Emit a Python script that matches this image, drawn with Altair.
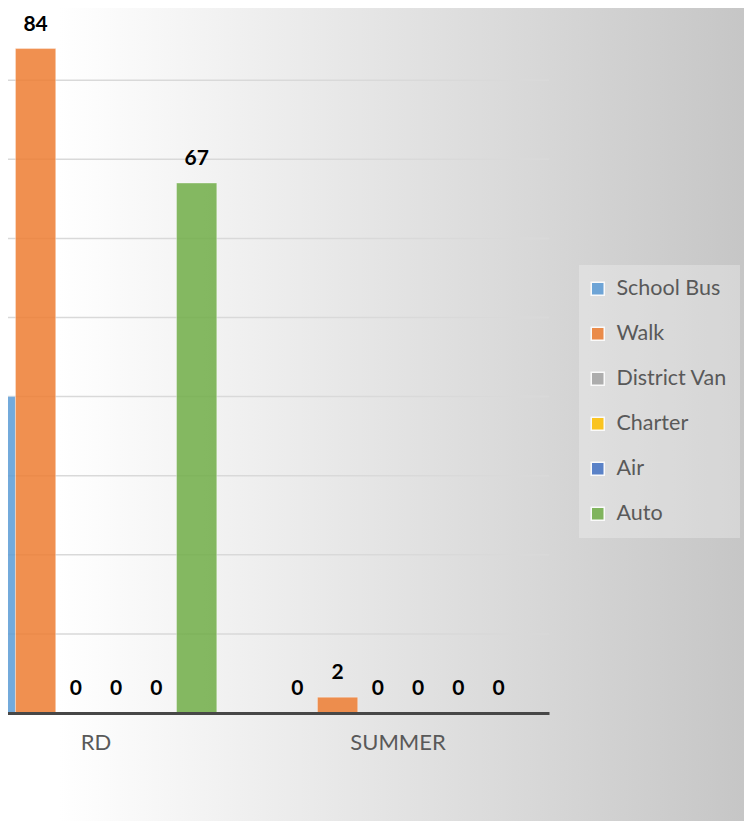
import altair as alt
import pandas as pd

categories = ["RD", "SUMMER"]
modes = ["School Bus", "Walk", "District Van", "Charter", "Air", "Auto"]
rd_values = [40, 84, 0, 0, 0, 67]
summer_values = [0, 2, 0, 0, 0, 0]
colors = ["#5B9BD5", "#ED7D31", "#A5A5A5", "#FFC000", "#4472C4", "#70AD47"]
grid_values = [10, 20, 30, 40, 50, 60, 70, 80]

rows = []
for cat, vals in zip(categories, [rd_values, summer_values]):
    for m, v in zip(modes, vals):
        rows.append({"period": cat, "mode": m, "count": v})
df = pd.DataFrame(rows)
grid_df = pd.DataFrame({"g": grid_values})
bg_df = pd.DataFrame({"a": [0]})

W, H = 541, 704
FONT = "Lato"

y_scale = alt.Scale(domain=[0, 89], nice=False, zero=True)

gradient = alt.LinearGradient(
    gradient="linear",
    stops=[
        alt.GradientStop(offset=0, color="#ffffff"),
        alt.GradientStop(offset=0.07, color="#ffffff"),
        alt.GradientStop(offset=1, color="#c6c6c6"),
    ],
    x1=0, x2=1, y1=0.5, y2=0.5,
)

background = alt.Chart(bg_df).mark_rect(fill=gradient, clip=False).encode(
    x=alt.value(0), x2=alt.value(736), y=alt.value(-1), y2=alt.value(812)
)

grid = alt.Chart(grid_df).mark_rule(color="#d9d9d9", strokeWidth=1.5).encode(
    y=alt.Y("g:Q", scale=y_scale, axis=None)
)

x_enc = alt.X(
    "period:N",
    sort=categories,
    scale=alt.Scale(range=[-63, 541], paddingInner=0.2, paddingOuter=0.1),
    axis=alt.Axis(
        title=None, ticks=False, labelPadding=19, labelFontSize=22, labelFont=FONT,
        labelColor="#595959", domainColor="#474747", domainWidth=3, grid=False,
        labelAngle=0, zindex=1,
    ),
)
xoff = alt.XOffset("mode:N", sort=modes, scale=alt.Scale(paddingInner=0, paddingOuter=0))
y_enc = alt.Y("count:Q", scale=y_scale, axis=None)

bars = alt.Chart(df).mark_bar(fillOpacity=0.85, stroke="white", strokeOpacity=0.35, strokeWidth=1).encode(
    x=x_enc,
    xOffset=xoff,
    y=y_enc,
    color=alt.Color(
        "mode:N",
        sort=modes,
        scale=alt.Scale(domain=modes, range=colors),
        legend=alt.Legend(
            title=None, orient="none", legendX=571, legendY=256,
            labelFont=FONT, labelFontSize=21.5, labelColor="#595959",
            symbolType="square", symbolSize=169, symbolOpacity=0.85,
            symbolOffset=-5,
            padding=13, rowPadding=22, labelOffset=8,
            fillColor="rgba(255,255,255,0.27)",
        ),
    ),
)

labels = alt.Chart(df).transform_filter(
    "datum.period != 'RD' || datum.mode != 'School Bus'"
).mark_text(
    font=FONT, fontWeight="bold", fontSize=21, baseline="alphabetic", dy=-18, color="black"
).encode(
    x=x_enc,
    xOffset=xoff,
    y=y_enc,
    text=alt.Text("count:Q"),
)

chart = alt.layer(background, grid, bars, labels).properties(
    width=W, height=H,
    autosize=alt.AutoSizeParams(type="none"),
    padding={"left": 0, "top": 1, "right": 195, "bottom": 108},
).configure_view(stroke=None)

chart.save("out.html", embed_options={"renderer": "svg", "actions": False})
